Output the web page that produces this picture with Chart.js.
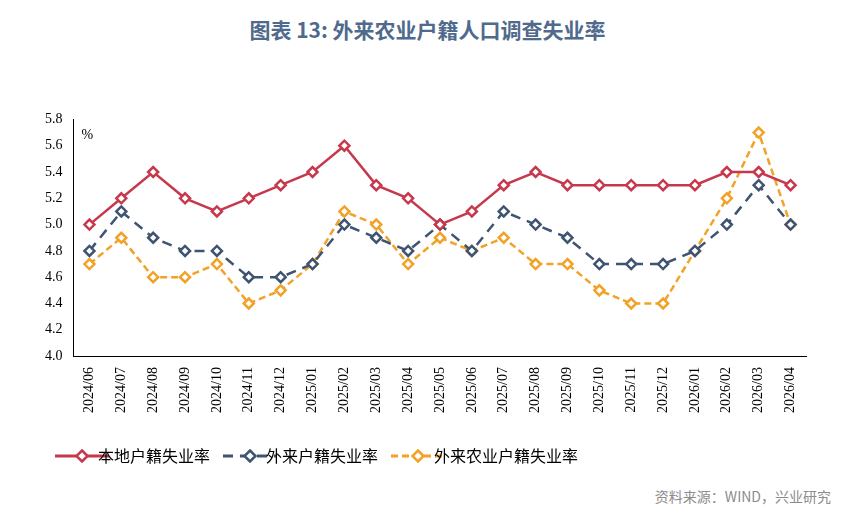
<!DOCTYPE html>
<html>
<head>
<meta charset="utf-8">
<script src="https://cdn.jsdelivr.net/npm/chart.js@4"></script>
<style>
  body { margin: 0; background: #fff; font-family: "Noto Sans CJK SC", sans-serif; }
  #wrap { position: relative; width: 855px; height: 526px; }
  #title { position: absolute; top: 14px; left: 0; width: 855px; text-align: center; font-size: 21px; font-weight: bold; color: #4f6a8c; }
  #src { position: absolute; right: 24px; top: 486px; font-size: 14px; color: #8c8c8c; }
  #box { position: absolute; left: 42px; top: 108px; width: 772px; height: 366px; }
</style>
</head>
<body>
<div id="wrap">
  <div id="title">图表 13: 外来农业户籍人口调查失业率</div>
  <div id="box"><canvas id="c"></canvas></div>
  <div id="src">资料来源：WIND，兴业研究</div>
</div>
<script>
const months = ['2024/06','2024/07','2024/08','2024/09','2024/10','2024/11','2024/12','2025/01','2025/02','2025/03','2025/04','2025/05','2025/06','2025/07','2025/08','2025/09','2025/10','2025/11','2025/12','2026/01','2026/02','2026/03','2026/04'];
const local = [5.0,5.2,5.4,5.2,5.1,5.2,5.3,5.4,5.6,5.3,5.2,5.0,5.1,5.3,5.4,5.3,5.3,5.3,5.3,5.3,5.4,5.4,5.3];
const migrant = [4.8,5.1,4.9,4.8,4.8,4.6,4.6,4.7,5.0,4.9,4.8,5.0,4.8,5.1,5.0,4.9,4.7,4.7,4.7,4.8,5.0,5.3,5.0];
const migrantRural = [4.7,4.9,4.6,4.6,4.7,4.4,4.5,4.7,5.1,5.0,4.7,4.9,4.8,4.9,4.7,4.7,4.5,4.4,4.4,4.8,5.2,5.7,5.0];

function legendIcon(color, dash) {
  const cv = document.createElement('canvas');
  cv.width = 56; cv.height = 14;
  const g = cv.getContext('2d');
  g.strokeStyle = color; g.lineWidth = 3;
  g.setLineDash(dash);
  g.beginPath(); g.moveTo(1, 7); g.lineTo(55, 7); g.stroke();
  g.setLineDash([]);
  g.fillStyle = '#fff'; g.lineWidth = 2.5;
  g.beginPath(); g.moveTo(28, 1.5); g.lineTo(33.5, 7); g.lineTo(28, 12.5); g.lineTo(22.5, 7); g.closePath();
  g.fill(); g.stroke();
  return cv;
}

function ds(label, data, color, dash) {
  return {
    label, data, borderColor: color, backgroundColor: '#fff',
    borderWidth: 2.5, borderDash: dash, pointStyle: 'rectRot', pointRadius: 5,
    pointBorderWidth: 2.5, pointBackgroundColor: '#fff', pointBorderColor: color,
    tension: 0, icon: legendIcon(color, dash)
  };
}

new Chart(document.getElementById('c'), {
  type: 'line',
  data: {
    labels: months,
    datasets: [
      ds('本地户籍失业率', local, '#c8384c', []),
      ds('外来户籍失业率', migrant, '#3f5472', [10, 7]),
      ds('外来农业户籍失业率', migrantRural, '#f2a227', [7, 4])
    ]
  },
  options: {
    responsive: true, maintainAspectRatio: false, animation: false,
    plugins: {
      legend: {
        position: 'bottom', align: 'start',
        labels: {
          usePointStyle: true, padding: 32, color: '#000',
          font: { size: 16, family: '"Noto Sans CJK SC"' },
          generateLabels(chart) {
            return chart.data.datasets.map((d, i) => ({
              text: d.label, pointStyle: d.icon, datasetIndex: i,
              fillStyle: '#fff', strokeStyle: d.borderColor, lineWidth: 0
            }));
          }
        }
      },
      tooltip: { enabled: false },
      title: { display: false }
    },
    scales: {
      x: {
        offset: true,
        grid: { display: false, drawTicks: true },
        border: { color: '#000' },
        ticks: { maxRotation: 90, minRotation: 90, color: '#000', font: { size: 14, family: '"Times New Roman", "Liberation Serif"' } }
      },
      y: {
        min: 4.0, max: 5.8,
        grid: { display: false },
        border: { color: '#000' },
        ticks: { stepSize: 0.2, color: '#000', callback: v => v.toFixed(1), font: { size: 14, family: '"Times New Roman", "Liberation Serif"' } }
      }
    }
  },
  plugins: [{
    id: 'unit',
    afterDraw(chart) {
      const a = chart.chartArea, g = chart.ctx;
      g.save(); g.fillStyle = '#000'; g.font = '14px "Liberation Serif"';
      g.fillText('%', a.left + 8, a.top + 16); g.restore();
    }
  }]
});
</script>
</body>
</html>
